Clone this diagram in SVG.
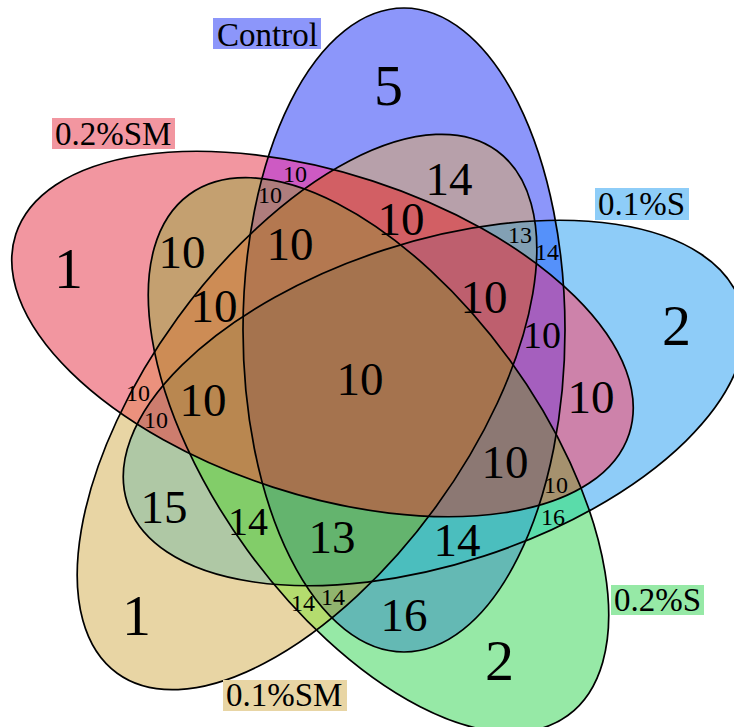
<svg xmlns="http://www.w3.org/2000/svg" width="734" height="727" viewBox="0 0 734 727">
<style>
.ol{fill:none;stroke:#000;stroke-width:1.7}
.n{fill:#000;text-anchor:middle}
.big{font-size:58px}.mid{font-size:47px}.sm{font-size:24px}
.lab{font-size:33px;fill:#000}
</style>
<defs>
<ellipse id="eC" cx="404" cy="330" rx="161" ry="322"/>
<ellipse id="eP" cx="322.5" cy="334" rx="322.5" ry="161" transform="rotate(18 322.5 334)"/>
<ellipse id="eB" cx="434" cy="403" rx="322.5" ry="161" transform="rotate(-18 434 403)"/>
<ellipse id="eG" cx="378.5" cy="455" rx="322" ry="162" transform="rotate(54 378.5 455)"/>
<ellipse id="eT" cx="307" cy="412" rx="323" ry="160" transform="rotate(-54 307 412)"/>
<clipPath id="kC"><use href="#eC"/></clipPath>
<clipPath id="kP"><use href="#eP"/></clipPath>
<clipPath id="kB"><use href="#eB"/></clipPath>
<clipPath id="kG"><use href="#eG"/></clipPath>
<clipPath id="kT"><use href="#eT"/></clipPath>
</defs>
<rect width="734" height="727" fill="#fff"/>
<g id="regions">
<use href="#eC" fill="#8c96fa"/>
<use href="#eP" fill="#f296a0"/>
<use href="#eB" fill="#8eccf8"/>
<use href="#eG" fill="#96e9a6"/>
<use href="#eT" fill="#e8d5a4"/>
<g clip-path="url(#kC)"><use href="#eP" fill="#cd5ac3"/></g>
<g clip-path="url(#kC)"><use href="#eT" fill="#b7a0aa"/></g>
<g clip-path="url(#kC)"><use href="#eB" fill="#5591fa"/></g>
<g clip-path="url(#kC)"><use href="#eG" fill="#64b9b4"/></g>
<g clip-path="url(#kP)"><use href="#eG" fill="#c4a070"/></g>
<g clip-path="url(#kP)"><use href="#eT" fill="#eb917d"/></g>
<g clip-path="url(#kP)"><use href="#eB" fill="#cd82aa"/></g>
<g clip-path="url(#kB)"><use href="#eG" fill="#5adcaa"/></g>
<g clip-path="url(#kB)"><use href="#eT" fill="#afc8a5"/></g>
<g clip-path="url(#kT)"><use href="#eG" fill="#b4dc6e"/></g>
<g clip-path="url(#kC)"><g clip-path="url(#kP)"><use href="#eG" fill="#af7d7d"/></g></g>
<g clip-path="url(#kC)"><g clip-path="url(#kP)"><use href="#eT" fill="#d25f64"/></g></g>
<g clip-path="url(#kC)"><g clip-path="url(#kT)"><use href="#eB" fill="#82a0b4"/></g></g>
<g clip-path="url(#kC)"><g clip-path="url(#kP)"><use href="#eB" fill="#a55fbe"/></g></g>
<g clip-path="url(#kP)"><g clip-path="url(#kG)"><use href="#eT" fill="#cd8c55"/></g></g>
<g clip-path="url(#kP)"><g clip-path="url(#kT)"><use href="#eB" fill="#cd7d6e"/></g></g>
<g clip-path="url(#kP)"><g clip-path="url(#kB)"><use href="#eG" fill="#a5916e"/></g></g>
<g clip-path="url(#kB)"><g clip-path="url(#kT)"><use href="#eG" fill="#82cd69"/></g></g>
<g clip-path="url(#kC)"><g clip-path="url(#kB)"><use href="#eG" fill="#4bbebe"/></g></g>
<g clip-path="url(#kC)"><g clip-path="url(#kT)"><use href="#eG" fill="#91b46e"/></g></g>
<g clip-path="url(#kC)"><g clip-path="url(#kP)"><g clip-path="url(#kG)"><use href="#eT" fill="#b47850"/></g></g></g>
<g clip-path="url(#kC)"><g clip-path="url(#kP)"><g clip-path="url(#kT)"><use href="#eB" fill="#be5f6e"/></g></g></g>
<g clip-path="url(#kP)"><g clip-path="url(#kT)"><g clip-path="url(#kG)"><use href="#eB" fill="#b98750"/></g></g></g>
<g clip-path="url(#kC)"><g clip-path="url(#kP)"><g clip-path="url(#kB)"><use href="#eG" fill="#8c7873"/></g></g></g>
<g clip-path="url(#kC)"><g clip-path="url(#kB)"><g clip-path="url(#kT)"><use href="#eG" fill="#64b46e"/></g></g></g>
<g clip-path="url(#kC)"><g clip-path="url(#kP)"><g clip-path="url(#kB)"><g clip-path="url(#kG)"><use href="#eT" fill="#a5734e"/></g></g></g></g>
</g>
<g font-family="'Liberation Serif', 'DejaVu Serif', serif">
<g id="set-control">
<use href="#eC" class="ol"/>
<rect x="213" y="18" width="108" height="31" fill="#8c96fa"/>
<text class="lab" x="217" y="46">Control</text>
</g>
<g id="set-0.2SM">
<use href="#eP" class="ol"/>
<rect x="52" y="118" width="123" height="31" fill="#f296a0"/>
<text class="lab" x="55" y="145">0.2%SM</text>
</g>
<g id="set-0.1S">
<use href="#eB" class="ol"/>
<rect x="595" y="188" width="94" height="32" fill="#8ecdf8"/>
<text class="lab" x="598" y="215">0.1%S</text>
</g>
<g id="set-0.2S">
<use href="#eG" class="ol"/>
<rect x="611" y="585" width="93" height="30" fill="#96e9a6"/>
<text class="lab" x="614" y="611">0.2%S</text>
</g>
<g id="set-0.1SM">
<use href="#eT" class="ol"/>
<rect x="223" y="680" width="124" height="31" fill="#e8d5a4"/>
<text class="lab" x="226" y="706">0.1%SM</text>
</g>
<g id="counts">
<text class="n big" x="388.5" y="105">5</text>
<text class="n big" x="68.5" y="288">1</text>
<text class="n big" x="676.5" y="345">2</text>
<text class="n big" x="499.5" y="680">2</text>
<text class="n big" x="136.5" y="635">1</text>
<text class="n sm" x="295" y="182">10</text>
<text class="n sm" x="270" y="203">10</text>
<text class="n mid" x="182" y="268">10</text>
<text class="n mid" x="290" y="260">10</text>
<text class="n mid" x="449" y="195">14</text>
<text class="n mid" x="401" y="235">10</text>
<text class="n sm" x="520" y="243">13</text>
<text class="n sm" x="547" y="260">14</text>
<text class="n mid" x="214" y="322">10</text>
<text class="n mid" x="484" y="313">10</text>
<text class="n" style="font-size:38px" x="542" y="348">10</text>
<text class="n mid" x="360" y="395">10</text>
<text class="n mid" x="203" y="416">10</text>
<text class="n mid" x="591" y="413">10</text>
<text class="n sm" x="138" y="401">10</text>
<text class="n sm" x="156" y="428">10</text>
<text class="n mid" x="505" y="478">10</text>
<text class="n sm" x="556" y="493">10</text>
<text class="n sm" x="553" y="525">16</text>
<text class="n mid" x="164" y="523">15</text>
<text class="n" style="font-size:40px" x="248" y="535">14</text>
<text class="n mid" x="332" y="553">13</text>
<text class="n mid" x="457" y="556">14</text>
<text class="n sm" x="303" y="611">14</text>
<text class="n sm" x="333" y="605">14</text>
<text class="n mid" x="404" y="631">16</text>
</g>
</g>
</svg>
